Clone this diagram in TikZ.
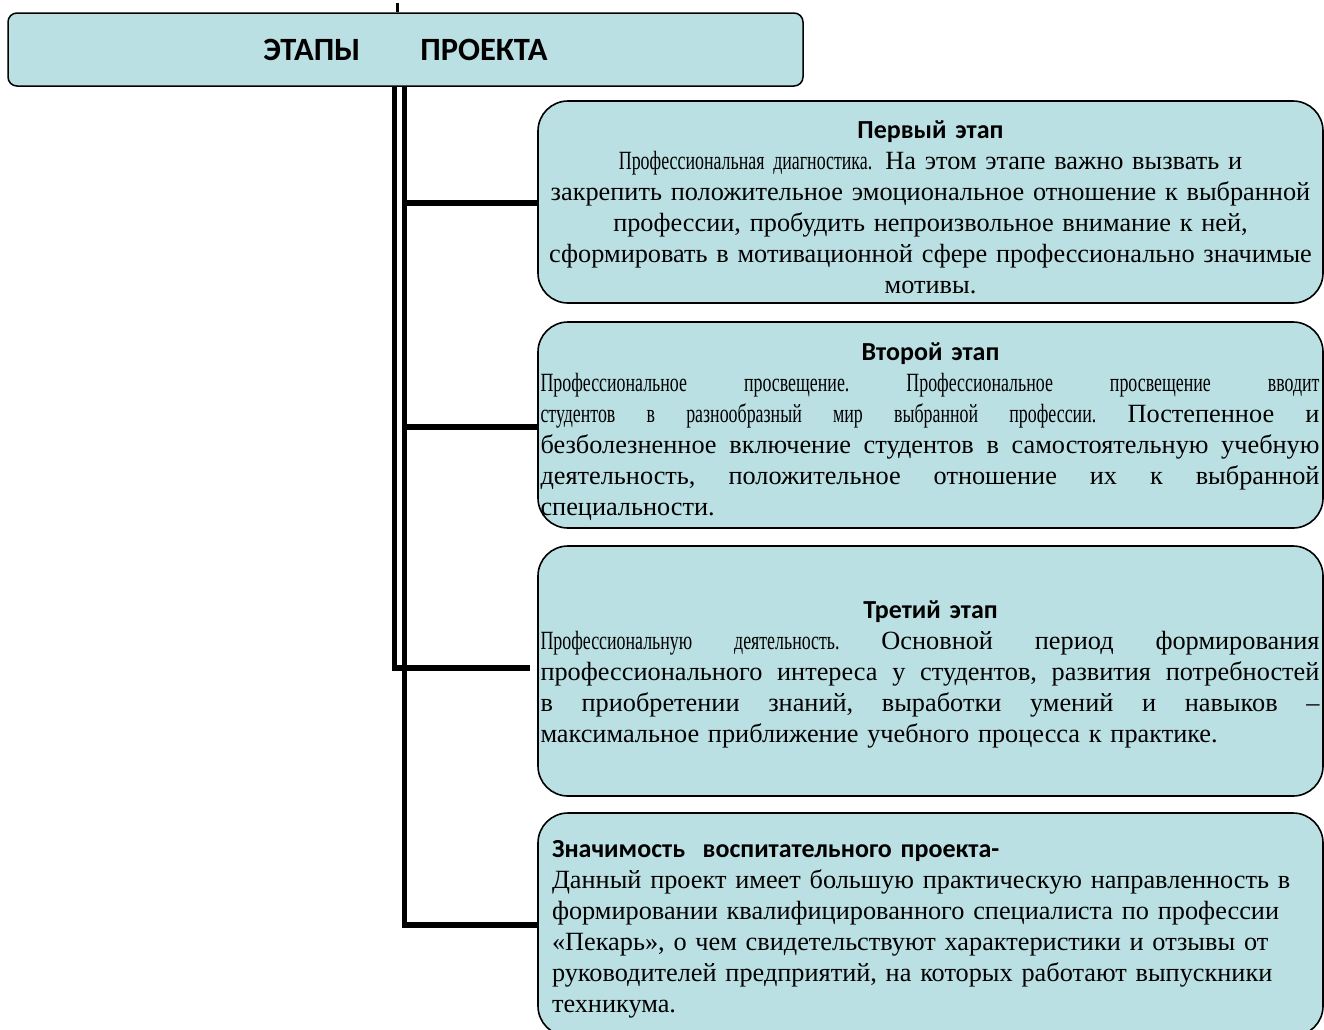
\documentclass[tikz,border=0pt]{standalone}
\usepackage{fontspec}
\usetikzlibrary{calc}
\setmainfont{Liberation Serif}
\newfontfamily\titlefont{Carlito}
\newfontfamily\condfont[FakeStretch=0.68]{Liberation Serif}
\definecolor{stagefill}{RGB}{187,224,227}
\tikzset{
  hdrbox/.style={draw=black, line width=1.5pt, fill=stagefill, rounded corners=9pt,
    minimum width=795pt, minimum height=73pt, inner sep=0pt,
    font=\titlefont\bfseries\fontsize{32.5}{36}\selectfont},
  stagebox/.style={draw=black, line width=1.6pt, fill=stagefill, rounded corners=30pt,
    minimum width=785pt, inner xsep=2.5pt, inner ysep=0pt, text width=780pt,
    font=\fontsize{26.3}{31}\selectfont},
  conn/.style={draw=black, line width=5.5pt, line cap=butt, line join=miter}
}
\newcommand{\stagetitle}[1]{{\titlefont\bfseries\fontsize{26}{31}\selectfont #1}}
\newcommand{\jline}[1]{\hbox to 779pt{#1}}
\newcommand{\g}{\hfill}
\begin{document}
\begin{tikzpicture}[x=1pt,y=-1pt]
\useasboundingbox (0,0) rectangle (1324,1029);
\clip (0,0) rectangle (1324,1029);

% header
\node[hdrbox] (hdr) at (405.5,49.5) {ЭТАПЫ\hspace*{60pt}ПРОЕКТА};

% stages
\node[stagebox, minimum height=202pt, align=center] (s1) at (930.5,202) {%
\stagetitle{Первый этап}\\
{\condfont Профессиональная диагностика.} На этом этапе важно вызвать и\\
закрепить положительное эмоциональное отношение к выбранной\\
профессии, пробудить непроизвольное внимание к ней,\\
сформировать в мотивационной сфере профессионально значимые\\
мотивы.\vspace{-10pt}};

\node[stagebox, minimum height=206pt, align=left] (s2) at (930.5,425) {%
\centerline{\stagetitle{Второй этап}}
\jline{\condfont Профессиональное\g просвещение.\g Профессиональное\g просвещение\g вводит}
\jline{\condfont студентов\g в\g разнообразный\g мир\g выбранной\g профессии.\g\normalfont Постепенное\g и}
\jline{безболезненное\g включение\g студентов\g в\g самостоятельную\g учебную}
\jline{деятельность,\g положительное\g отношение\g их\g к\g выбранной}
специальности.\vspace{-14pt}};

\node[stagebox, minimum height=250pt, align=left] (s3) at (930.5,671) {%
\centerline{\stagetitle{Третий этап}}
\jline{\condfont Профессиональную\g деятельность.\g\normalfont Основной\g период\g формирования}
\jline{профессионального\g интереса\g у\g студентов,\g развития\g потребностей}
\jline{в\g приобретении\g знаний,\g выработки\g умений\g и\g навыков\g –}
максимальное приближение учебного процесса к практике.\vspace{-6pt}};

\node[stagebox, minimum height=223pt, align=left, inner xsep=14pt, text width=757pt] (s4) at (930.5,924.5) {%
\stagetitle{Значимость\ \ воспитательного проекта-}\\
Данный проект имеет большую практическую направленность в\\
формировании квалифицированного специалиста по профессии\\
«Пекарь», о чем свидетельствуют характеристики и отзывы от\\
руководителей предприятий, на которых работают выпускники\\
техникума.\vspace{-10pt}};

% connectors
\coordinate (lx) at (394.5,668);
\coordinate (rx) at (404.5,925);
\coordinate (e3) at (530,668);
\coordinate (tick) at (397,3);
\draw[conn] (lx |- hdr.south) -- (lx) -- (e3);
\draw[conn] (rx |- hdr.south) -- (rx) -- (s4.west |- rx);
\draw[conn] (rx |- 0,203) -- (s1.west |- 0,203);
\draw[conn] (rx |- 0,427) -- (s2.west |- 0,427);
\draw[line width=3pt] (tick) -- (tick |- hdr.north);
\end{tikzpicture}
\end{document}
